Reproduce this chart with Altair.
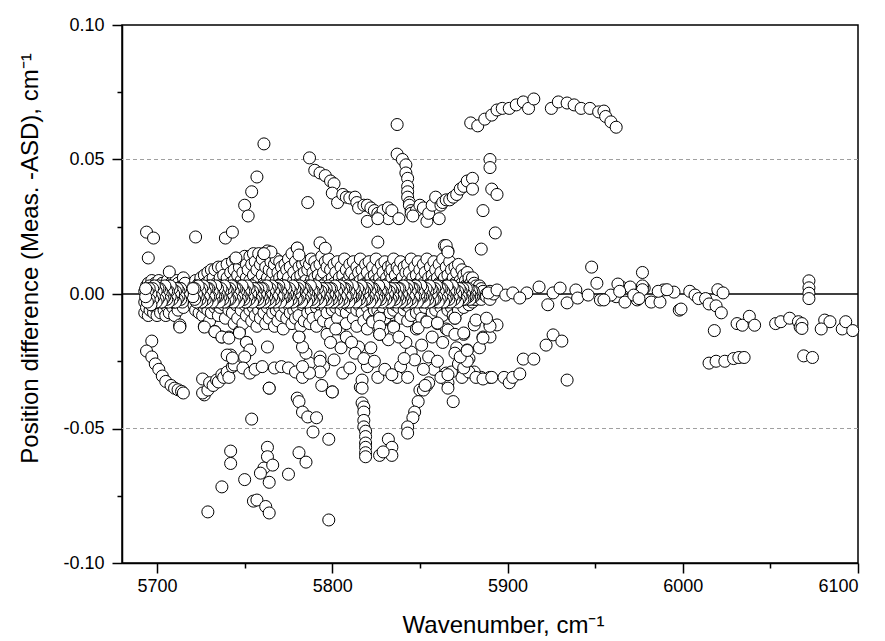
import altair as alt
import pandas as pd

# ---------------- data ----------------
# dense band of residuals near zero: (wavenumber, [position differences])
band_rows = [
    (5693, [-0.003, 0.001, -0.007]), (5694, [0.003, -0.001, -0.005]),
    (5695, [-0.008, 0.000, 0.004]), (5696, [-0.003, 0.002, -0.006]),
    (5697, [0.005, -0.001, -0.004]), (5698, [-0.007, 0.001, 0.003]),
    (5699, [-0.002, 0.004, -0.005]), (5700, [0.002, -0.003, -0.008]),
    (5701, [0.000, 0.005, -0.005]), (5702, [-0.002, 0.003, -0.007]),
    (5703, [0.001, -0.004, 0.004]), (5704, [-0.001, -0.006, 0.002]),
    (5705, [0.003, -0.003, -0.008]), (5706, [0.000, 0.005, -0.005]),
    (5707, [-0.002, 0.002, -0.007]), (5708, [0.004, -0.001, -0.004]),
    (5709, [0.001, -0.005, 0.003]), (5710, [-0.002, 0.003, -0.008]),
    (5711, [0.002, -0.004, 0.005]), (5712, [-0.001, 0.004, -0.006]),
    (5713, [0.001, -0.003, -0.012]), (5714, [0.003, -0.002]),
    (5715, [0.002, -0.005, 0.006]), (5716, [0.000, 0.004]),
    (5720, [0.001, -0.002]), (5721, [0.003, -0.004, 0.000]),
    (5722, [-0.001, 0.005, -0.006]), (5723, [0.002, -0.003, 0.000]),
    (5724, [0.004, -0.001, -0.007]), (5725, [0.000, 0.006, -0.004]),
    (5726, [-0.002, 0.002, -0.008]), (5727, [0.007, 0.000, -0.005, -0.012]),
    (5728, [0.001, -0.003, 0.004]), (5729, [-0.001, 0.008, -0.006]),
    (5730, [0.002, -0.003, 0.005, -0.010]), (5731, [0.000, -0.007, 0.009]),
    (5732, [0.003, -0.002, 0.006]), (5733, [-0.001, 0.009, -0.005, -0.014]),
    (5734, [0.001, -0.004, 0.004]), (5735, [0.010, -0.002, 0.002, -0.008]),
    (5736, [0.000, 0.006, -0.005]), (5737, [-0.002, 0.010, 0.003, -0.016]),
    (5738, [0.001, -0.004, 0.007]), (5739, [-0.001, 0.004, -0.009]),
    (5740, [0.011, 0.000, -0.003, 0.006]), (5741, [0.002, -0.006, -0.016]),
    (5742, [-0.001, 0.008, -0.003, 0.004]), (5743, [0.012, 0.001, -0.007]),
    (5744, [-0.002, 0.005, 0.009, -0.011]), (5745, [0.000, -0.004, 0.013]),
    (5746, [0.003, -0.001, 0.007, -0.009]), (5747, [-0.003, 0.010, 0.001, -0.014]),
    (5748, [0.005, -0.006, 0.013]), (5749, [0.000, -0.002, 0.008, -0.011]),
    (5750, [0.014, 0.003, -0.004]), (5751, [-0.001, 0.006, -0.008, 0.011, -0.018]),
    (5752, [0.002, -0.003, 0.009]), (5753, [0.000, 0.014, -0.006, 0.005]),
    (5754, [-0.002, 0.003, 0.011, -0.010]), (5755, [0.001, -0.005, 0.007, 0.015]),
    (5756, [-0.001, 0.004, -0.008, 0.012]), (5757, [0.002, -0.003, 0.009, -0.012]),
    (5758, [0.000, 0.015, -0.006, 0.005]), (5759, [-0.002, 0.002, 0.011, -0.009]),
    (5760, [0.001, -0.004, 0.007, 0.013]), (5761, [-0.001, 0.004, -0.007, 0.015]),
    (5762, [0.002, -0.002, 0.010, -0.011]), (5763, [0.000, 0.016, -0.005, 0.006]),
    (5764, [-0.002, 0.003, 0.009, -0.009]), (5765, [0.001, -0.004, 0.012, 0.005]),
    (5766, [-0.001, 0.002, -0.007, 0.008]), (5767, [0.002, -0.003, 0.011, -0.012]),
    (5768, [0.000, 0.005, -0.006, 0.013]), (5769, [-0.002, 0.003, 0.008, -0.010]),
    (5770, [0.001, -0.005, 0.006, 0.012]), (5771, [-0.001, 0.004, -0.008, 0.010]),
    (5772, [0.002, -0.002, 0.007, -0.013]), (5773, [0.000, 0.011, -0.005, 0.004]),
    (5774, [-0.002, 0.002, 0.009, -0.009]), (5775, [0.001, -0.004, 0.013, 0.006]),
    (5776, [-0.001, 0.003, -0.007, 0.010]), (5777, [0.002, -0.003, 0.015, -0.011]),
    (5778, [0.000, 0.005, -0.006, 0.008]), (5779, [-0.002, 0.002, 0.012, -0.009]),
    (5780, [0.001, -0.005, 0.017, 0.006]), (5781, [-0.001, 0.004, -0.008, 0.010, -0.016]),
    (5782, [0.002, -0.002, 0.007, -0.012]), (5783, [0.000, 0.011, -0.004, 0.004]),
    (5784, [-0.002, 0.003, 0.008, -0.010]), (5785, [0.001, -0.003, 0.012, 0.005]),
    (5786, [-0.001, 0.002, -0.007, 0.009]), (5787, [0.002, -0.004, 0.011, -0.011]),
    (5788, [0.000, 0.005, -0.006, 0.013]), (5789, [-0.002, 0.003, 0.008, -0.009]),
    (5790, [0.001, -0.003, 0.006, 0.012]), (5791, [-0.001, 0.002, -0.005, 0.010, -0.012]),
    (5792, [0.001, -0.002, 0.007, 0.004]), (5793, [0.000, 0.003, -0.004, 0.011, -0.008]),
    (5794, [-0.001, 0.002, 0.006, 0.014]), (5795, [0.001, -0.003, 0.008, -0.010]),
    (5796, [0.000, 0.004, -0.005, 0.012]), (5797, [-0.001, 0.002, 0.010, -0.007]),
    (5798, [0.001, -0.002, 0.005, 0.013]), (5799, [0.000, 0.003, -0.004, 0.009, -0.011]),
    (5800, [-0.001, 0.001, 0.006, -0.006]), (5801, [0.001, -0.002, 0.011, 0.004]),
    (5802, [0.000, 0.003, -0.005, 0.008]), (5803, [-0.001, 0.002, 0.012, -0.009]),
    (5804, [0.001, -0.003, 0.006, -0.013]), (5805, [0.000, 0.004, -0.006, 0.010]),
    (5806, [-0.001, 0.001, 0.007, -0.004]), (5807, [0.001, -0.002, 0.013, 0.004]),
    (5808, [0.000, 0.003, -0.007, 0.009, -0.011]), (5809, [-0.001, 0.002, 0.005, -0.004]),
    (5810, [0.001, -0.002, 0.011, 0.007]), (5811, [0.000, 0.004, -0.005, 0.008]),
    (5812, [-0.001, 0.001, 0.012, -0.009]), (5813, [0.001, -0.003, 0.006, 0.003]),
    (5814, [0.000, 0.004, -0.006, 0.010, -0.012]), (5815, [-0.001, 0.002, 0.008, -0.004]),
    (5816, [0.001, -0.002, 0.013, 0.005]), (5817, [0.000, 0.003, -0.007, 0.009]),
    (5818, [-0.001, 0.001, 0.006, -0.010]), (5819, [0.001, -0.003, 0.011, 0.004]),
    (5820, [0.000, 0.004, -0.005, 0.008, -0.013]), (5821, [-0.001, 0.002, 0.012, -0.008]),
    (5822, [0.001, -0.002, 0.006, 0.003]), (5823, [0.000, 0.003, -0.004, 0.010, -0.010]),
    (5824, [-0.001, 0.001, 0.007, -0.006]), (5825, [0.001, -0.003, 0.013, 0.005]),
    (5826, [0.000, 0.004, -0.006, 0.009, -0.012]), (5827, [-0.001, 0.002, 0.006, -0.008, -0.015]),
    (5828, [0.001, -0.002, 0.011, 0.004]), (5829, [0.000, 0.003, -0.005, 0.008, -0.013]),
    (5830, [-0.001, 0.001, 0.012, -0.009]), (5831, [0.001, -0.002, 0.006, 0.003]),
    (5832, [0.000, 0.004, -0.004, 0.010]), (5833, [-0.001, 0.002, 0.008, -0.007]),
    (5834, [0.001, -0.003, 0.011, 0.006, 0.009]), (5835, [0.000, 0.003, -0.006, 0.013, -0.012]),
    (5836, [-0.001, 0.001, 0.007, -0.004]), (5837, [0.001, -0.002, 0.010, 0.004]),
    (5838, [0.000, 0.004, -0.005, 0.009]), (5839, [-0.001, 0.002, 0.012, -0.009]),
    (5840, [0.001, -0.003, 0.006, 0.003]), (5841, [0.000, 0.003, -0.006, 0.010]),
    (5842, [-0.001, 0.001, 0.008, -0.004]), (5843, [0.001, -0.002, 0.011, 0.005, -0.010]),
    (5844, [0.000, 0.004, -0.005, 0.008]), (5845, [-0.001, 0.002, 0.013, -0.008]),
    (5846, [0.001, -0.002, 0.006, 0.003]), (5847, [0.000, 0.003, -0.004, 0.010]),
    (5848, [-0.001, 0.001, 0.007, -0.007, -0.013]), (5849, [0.001, -0.003, 0.012, 0.004]),
    (5850, [0.000, 0.004, -0.006, 0.009]), (5851, [-0.001, 0.002, 0.006, -0.009]),
    (5852, [0.001, -0.002, 0.011, 0.004]), (5853, [0.000, 0.003, -0.005, 0.008]),
    (5854, [-0.001, 0.001, 0.013, -0.010]), (5855, [0.001, -0.002, 0.006, 0.003]),
    (5856, [0.000, 0.004, -0.004, 0.010]), (5857, [-0.001, 0.002, 0.007, -0.007]),
    (5858, [0.001, -0.003, 0.012, 0.005]), (5859, [0.000, 0.003, -0.006, 0.009]),
    (5860, [-0.001, 0.001, 0.006, -0.011]), (5861, [0.001, -0.002, 0.011, 0.004]),
    (5862, [0.000, 0.004, -0.005, 0.008]), (5863, [-0.001, 0.002, 0.013, -0.008]),
    (5864, [0.001, -0.002, 0.006, 0.003, 0.018]), (5865, [0.000, 0.003, -0.004, 0.010, -0.013]),
    (5866, [-0.001, 0.001, 0.007, -0.006, 0.016]), (5867, [0.001, -0.003, 0.012, 0.004]),
    (5868, [0.000, 0.004, -0.005, 0.009]), (5869, [-0.001, 0.002, 0.006, -0.008]),
    (5870, [0.001, -0.002, 0.010, 0.004, -0.009]), (5871, [0.000, 0.003, -0.004, 0.008]),
    (5872, [-0.001, 0.001, 0.011, -0.006]), (5873, [0.001, -0.002, 0.005, 0.003]),
    (5874, [0.000, 0.004, -0.003, 0.009]), (5875, [-0.001, 0.002, 0.007, -0.005, -0.015]),
    (5876, [0.001, -0.002, 0.005, 0.003]), (5877, [0.000, 0.003, -0.003, 0.008]),
    (5878, [-0.001, 0.001, 0.006, -0.004]), (5879, [0.001, -0.002, 0.004, 0.002]),
    (5880, [0.000, 0.003, -0.003, 0.006]), (5881, [-0.001, 0.001, 0.004, -0.002]),
    (5882, [0.001, -0.002, 0.003]), (5883, [0.000, 0.002, -0.001]),
    (5884, [-0.001, 0.001, 0.003]), (5885, [0.001, -0.002, 0.002]),
    (5886, [0.000, 0.001]), (5888, [0.000, -0.001]), (5890, [0.001, -0.002]),
    (5892, [0.000]),
]

# very dense dark core of the band (half-step wavenumbers, listed from high to low)
core_rows = [
    (5880.5, [-0.001, 0.001]), (5879.5, [0.001, -0.001]), (5878.5, [0.000, -0.002]),
    (5877.5, [0.002, -0.001]), (5876.5, [-0.001, 0.002]), (5875.5, [0.000, -0.002]),
    (5874.5, [-0.002, 0.002]), (5873.5, [0.001, -0.001]), (5872.5, [-0.002, 0.002]),
    (5871.5, [0.001, -0.003]), (5870.5, [-0.001, 0.000]), (5869.5, [0.002, -0.002]),
    (5868.5, [-0.001, 0.003]), (5867.5, [0.001, -0.003]), (5866.5, [-0.002, 0.001]),
    (5865.5, [0.003, -0.001]), (5864.5, [0.000, -0.002]), (5863.5, [-0.003, 0.001]),
    (5862.5, [0.002, -0.001]), (5861.5, [-0.002, 0.002]), (5860.5, [0.001, -0.003]),
    (5859.5, [-0.001, 0.003]), (5858.5, [0.002, -0.002]), (5857.5, [-0.002, 0.001]),
    (5856.5, [0.000, 0.002]), (5855.5, [0.003, -0.003]), (5854.5, [-0.002, 0.001]),
    (5853.5, [0.002, -0.001]), (5852.5, [0.000, -0.003]), (5851.5, [-0.001, 0.002]),
    (5850.5, [0.003, -0.001]), (5849.5, [-0.002, 0.000]), (5848.5, [0.001, -0.003]),
    (5847.5, [-0.001, 0.003]), (5846.5, [0.002, -0.001]), (5845.5, [-0.003, 0.002]),
    (5844.5, [0.001, -0.002]), (5843.5, [-0.001, 0.003]), (5842.5, [0.002, -0.003]),
    (5841.5, [-0.002, 0.001]), (5840.5, [0.003, -0.001]), (5839.5, [0.000, -0.003]),
    (5838.5, [0.002, -0.002]), (5837.5, [-0.001, 0.002]), (5836.5, [0.000, -0.003]),
    (5835.5, [-0.002, 0.002]), (5834.5, [0.001, -0.001]), (5833.5, [-0.002, 0.002]),
    (5832.5, [0.001, -0.003]), (5831.5, [-0.001, 0.000]), (5830.5, [0.002, -0.002]),
    (5829.5, [-0.001, 0.003]), (5828.5, [0.001, -0.003]), (5827.5, [-0.002, 0.001]),
    (5826.5, [0.003, -0.001]), (5825.5, [0.000, -0.002]), (5824.5, [-0.003, 0.001]),
    (5823.5, [0.002, -0.001]), (5822.5, [-0.002, 0.002]), (5821.5, [0.001, -0.003]),
    (5820.5, [-0.001, 0.003]), (5819.5, [0.002, -0.002]), (5818.5, [-0.002, 0.001]),
    (5817.5, [0.000, 0.002]), (5816.5, [0.003, -0.003]), (5815.5, [-0.002, 0.001]),
    (5814.5, [0.002, -0.001]), (5813.5, [0.000, -0.003]), (5812.5, [-0.001, 0.002]),
    (5811.5, [0.003, -0.001]), (5810.5, [-0.002, 0.000]), (5809.5, [0.001, -0.003]),
    (5808.5, [-0.001, 0.003]), (5807.5, [0.002, -0.001]), (5806.5, [-0.003, 0.002]),
    (5805.5, [0.001, -0.002]), (5804.5, [-0.001, 0.003]), (5803.5, [0.002, -0.003]),
    (5802.5, [-0.002, 0.001]), (5801.5, [0.003, -0.001]), (5800.5, [0.000, -0.003]),
    (5799.5, [0.002, -0.002]), (5798.5, [-0.001, 0.002]), (5797.5, [0.000, -0.003]),
    (5796.5, [-0.002, 0.002]), (5795.5, [0.001, -0.001]), (5794.5, [-0.002, 0.002]),
    (5793.5, [0.001, -0.003]), (5792.5, [-0.001, 0.000]), (5791.5, [0.002, -0.002]),
    (5790.5, [-0.001, 0.003]), (5789.5, [0.001, -0.003]), (5788.5, [-0.002, 0.001]),
    (5787.5, [0.003, -0.001]), (5786.5, [0.000, -0.002]), (5785.5, [-0.003, 0.001]),
    (5784.5, [0.002, -0.001]), (5783.5, [-0.002, 0.002]), (5782.5, [0.001, -0.003]),
    (5781.5, [-0.001, 0.003]), (5780.5, [0.002, -0.002]), (5779.5, [-0.002, 0.001]),
    (5778.5, [0.000, 0.002]), (5777.5, [0.003, -0.003]), (5776.5, [-0.002, 0.001]),
    (5775.5, [0.002, -0.001]), (5774.5, [0.000, -0.003]), (5773.5, [-0.001, 0.002]),
    (5772.5, [0.003, -0.001]), (5771.5, [-0.002, 0.000]), (5770.5, [0.001, -0.003]),
    (5769.5, [-0.001, 0.003]), (5768.5, [0.002, -0.001]), (5767.5, [-0.003, 0.002]),
    (5766.5, [0.001, -0.002]), (5765.5, [-0.001, 0.003]), (5764.5, [0.002, -0.003]),
    (5763.5, [-0.002, 0.001]), (5762.5, [0.003, -0.001]), (5761.5, [0.000, -0.003]),
    (5760.5, [0.002, -0.002]), (5759.5, [-0.001, 0.002]), (5758.5, [0.000, -0.003]),
    (5757.5, [-0.002, 0.002]), (5756.5, [0.001, -0.001]), (5755.5, [-0.002, 0.002]),
    (5754.5, [0.001, -0.003]), (5753.5, [-0.001, 0.000]), (5752.5, [0.002, -0.002]),
    (5751.5, [-0.001, 0.003]), (5750.5, [0.001, -0.003]), (5749.5, [-0.002, 0.001]),
    (5748.5, [0.003, -0.001]), (5747.5, [0.000, -0.002]), (5746.5, [-0.003, 0.001]),
    (5745.5, [0.002, -0.001]), (5744.5, [-0.002, 0.002]), (5743.5, [0.001, -0.003]),
    (5742.5, [-0.001, 0.003]), (5741.5, [0.002, -0.002]), (5740.5, [-0.002, 0.001]),
    (5739.5, [0.000, 0.002]), (5738.5, [0.003, -0.003]), (5737.5, [-0.002, 0.001]),
    (5736.5, [0.002, -0.001]), (5735.5, [0.000, -0.003]), (5734.5, [-0.001, 0.002]),
    (5733.5, [0.003, -0.001]), (5732.5, [-0.002, 0.000]), (5731.5, [0.001, -0.003]),
    (5730.5, [-0.001, 0.003]), (5729.5, [0.002, -0.001]), (5728.5, [-0.003, 0.002]),
    (5727.5, [0.001, -0.002]), (5726.5, [-0.001, 0.003]), (5725.5, [0.002, -0.003]),
    (5724.5, [-0.002, 0.001]), (5723.5, [0.003, -0.001]), (5722.5, [0.000, -0.003]),
    (5721.5, [0.002, -0.002]), (5720.5, [-0.001, 0.002]), (5714.5, [0.000, -0.003]),
    (5713.5, [-0.002, 0.002]), (5712.5, [0.001, -0.001]), (5711.5, [-0.002, 0.002]),
    (5710.5, [0.001, -0.003]), (5709.5, [-0.001, 0.000]), (5708.5, [0.002, -0.002]),
    (5707.5, [-0.001, 0.003]), (5706.5, [0.001, -0.003]), (5705.5, [-0.002, 0.001]),
    (5704.5, [0.003, -0.001]), (5703.5, [0.000, -0.002]), (5702.5, [-0.003, 0.001]),
    (5701.5, [0.002, -0.001]), (5700.5, [-0.002, 0.002]), (5699.5, [0.001, -0.003]),
    (5698.5, [-0.001, 0.003]), (5697.5, [0.002, -0.002]), (5696.5, [0.000, -0.004]),
    (5695.5, [0.002, -0.002]), (5694.5, [-0.003, 0.001]), (5693.5, [-0.001, 0.002]),
]

# finest core layer (quarter-step wavenumbers)
core_fine = [
    (5694.25, 0.001), (5694.75, -0.002), (5695.25, 0.000), (5695.75, 0.003), (5696.25, -0.001),
    (5696.75, 0.002), (5697.25, -0.003), (5697.75, 0.000), (5698.25, 0.002), (5698.75, -0.002),
    (5699.25, 0.000), (5699.75, 0.001), (5700.25, -0.001), (5700.75, 0.003), (5701.25, -0.002),
    (5701.75, 0.000), (5702.25, 0.001), (5702.75, -0.003), (5703.25, 0.002), (5703.75, -0.001),
    (5704.25, 0.000), (5704.75, 0.002), (5705.25, -0.002), (5705.75, 0.001), (5706.25, -0.001),
    (5706.75, 0.003), (5707.25, 0.000), (5707.75, -0.002), (5708.25, 0.001), (5708.75, -0.001),
    (5709.25, 0.002), (5709.75, -0.003), (5710.25, 0.000), (5710.75, 0.002), (5711.25, -0.001),
    (5711.75, 0.001), (5712.25, -0.002), (5712.75, 0.000), (5713.25, 0.002), (5713.75, -0.001),
    (5720.25, 0.000), (5720.75, 0.002), (5721.25, -0.001), (5721.75, 0.001), (5722.25, -0.002),
    (5722.75, 0.003), (5723.25, 0.000), (5723.75, -0.002), (5724.25, 0.001), (5724.75, -0.001),
    (5725.25, 0.002), (5725.75, -0.003), (5726.25, 0.000), (5726.75, 0.002), (5727.25, -0.001),
    (5727.75, 0.001), (5728.25, -0.002), (5728.75, 0.000), (5729.25, 0.003), (5729.75, -0.001),
    (5730.25, 0.000), (5730.75, -0.002), (5731.25, 0.002), (5731.75, 0.000), (5732.25, -0.001),
    (5732.75, 0.001), (5733.25, -0.003), (5733.75, 0.002), (5734.25, 0.000), (5734.75, -0.001),
    (5735.25, 0.001), (5735.75, 0.003), (5736.25, -0.002), (5736.75, 0.000), (5737.25, 0.002),
    (5737.75, -0.001), (5738.25, 0.001), (5738.75, -0.002), (5739.25, 0.000), (5739.75, 0.002),
    (5740.25, -0.003), (5740.75, 0.001), (5741.25, 0.000), (5741.75, -0.001), (5742.25, 0.002),
    (5742.75, 0.000), (5743.25, -0.002), (5743.75, 0.003), (5744.25, 0.001), (5744.75, -0.001),
    (5745.25, 0.000), (5745.75, 0.002), (5746.25, -0.002), (5746.75, 0.001), (5747.25, -0.001),
    (5747.75, 0.003), (5748.25, 0.000), (5748.75, -0.002), (5749.25, 0.001), (5749.75, -0.001),
    (5750.25, 0.002), (5750.75, -0.003), (5751.25, 0.000), (5751.75, 0.002), (5752.25, -0.001),
    (5752.75, 0.001), (5753.25, -0.002), (5753.75, 0.000), (5754.25, 0.003), (5754.75, -0.001),
    (5755.25, 0.000), (5755.75, -0.002), (5756.25, 0.002), (5756.75, 0.000), (5757.25, -0.001),
    (5757.75, 0.001), (5758.25, -0.003), (5758.75, 0.002), (5759.25, 0.000), (5759.75, -0.001),
    (5760.25, 0.001), (5760.75, 0.003), (5761.25, -0.002), (5761.75, 0.000), (5762.25, 0.002),
    (5762.75, -0.001), (5763.25, 0.001), (5763.75, -0.002), (5764.25, 0.000), (5764.75, 0.002),
    (5765.25, -0.003), (5765.75, 0.001), (5766.25, 0.000), (5766.75, -0.001), (5767.25, 0.002),
    (5767.75, 0.000), (5768.25, -0.002), (5768.75, 0.003), (5769.25, 0.001), (5769.75, -0.001),
    (5770.25, 0.000), (5770.75, 0.002), (5771.25, -0.002), (5771.75, 0.001), (5772.25, -0.001),
    (5772.75, 0.003), (5773.25, 0.000), (5773.75, -0.002), (5774.25, 0.001), (5774.75, -0.001),
    (5775.25, 0.002), (5775.75, -0.003), (5776.25, 0.000), (5776.75, 0.002), (5777.25, -0.001),
    (5777.75, 0.001), (5778.25, -0.002), (5778.75, 0.000), (5779.25, 0.003), (5779.75, -0.001),
    (5780.25, 0.000), (5780.75, -0.002), (5781.25, 0.002), (5781.75, 0.000), (5782.25, -0.001),
    (5782.75, 0.001), (5783.25, -0.003), (5783.75, 0.002), (5784.25, 0.000), (5784.75, -0.001),
    (5785.25, 0.001), (5785.75, 0.003), (5786.25, -0.002), (5786.75, 0.000), (5787.25, 0.002),
    (5787.75, -0.001), (5788.25, 0.001), (5788.75, -0.002), (5789.25, 0.000), (5789.75, 0.002),
    (5790.25, -0.003), (5790.75, 0.001), (5791.25, 0.000), (5791.75, -0.001), (5792.25, 0.002),
    (5792.75, 0.000), (5793.25, -0.002), (5793.75, 0.003), (5794.25, 0.001), (5794.75, -0.001),
    (5795.25, 0.000), (5795.75, 0.002), (5796.25, -0.002), (5796.75, 0.001), (5797.25, -0.001),
    (5797.75, 0.003), (5798.25, 0.000), (5798.75, -0.002), (5799.25, 0.001), (5799.75, -0.001),
    (5800.25, 0.002), (5800.75, -0.003), (5801.25, 0.000), (5801.75, 0.002), (5802.25, -0.001),
    (5802.75, 0.001), (5803.25, -0.002), (5803.75, 0.000), (5804.25, 0.003), (5804.75, -0.001),
    (5805.25, 0.000), (5805.75, -0.002), (5806.25, 0.002), (5806.75, 0.000), (5807.25, -0.001),
    (5807.75, 0.001), (5808.25, -0.003), (5808.75, 0.002), (5809.25, 0.000), (5809.75, -0.001),
    (5810.25, 0.001), (5810.75, 0.003), (5811.25, -0.002), (5811.75, 0.000), (5812.25, 0.002),
    (5812.75, -0.001), (5813.25, 0.001), (5813.75, -0.002), (5814.25, 0.000), (5814.75, 0.002),
    (5815.25, -0.003), (5815.75, 0.001), (5816.25, 0.000), (5816.75, -0.001), (5817.25, 0.002),
    (5817.75, 0.000), (5818.25, -0.002), (5818.75, 0.003), (5819.25, 0.001), (5819.75, -0.001),
    (5820.25, 0.000), (5820.75, 0.002), (5821.25, -0.002), (5821.75, 0.001), (5822.25, -0.001),
    (5822.75, 0.003), (5823.25, 0.000), (5823.75, -0.002), (5824.25, 0.001), (5824.75, -0.001),
    (5825.25, 0.002), (5825.75, -0.003), (5826.25, 0.000), (5826.75, 0.002), (5827.25, -0.001),
    (5827.75, 0.001), (5828.25, -0.002), (5828.75, 0.000), (5829.25, 0.003), (5829.75, -0.001),
    (5830.25, 0.000), (5830.75, -0.002), (5831.25, 0.002), (5831.75, 0.000), (5832.25, -0.001),
    (5832.75, 0.001), (5833.25, -0.003), (5833.75, 0.002), (5834.25, 0.000), (5834.75, -0.001),
    (5835.25, 0.001), (5835.75, 0.003), (5836.25, -0.002), (5836.75, 0.000), (5837.25, 0.002),
    (5837.75, -0.001), (5838.25, 0.001), (5838.75, -0.002), (5839.25, 0.000), (5839.75, 0.002),
    (5840.25, -0.003), (5840.75, 0.001), (5841.25, 0.000), (5841.75, -0.001), (5842.25, 0.002),
    (5842.75, 0.000), (5843.25, -0.002), (5843.75, 0.003), (5844.25, 0.001), (5844.75, -0.001),
    (5845.25, 0.000), (5845.75, 0.002), (5846.25, -0.002), (5846.75, 0.001), (5847.25, -0.001),
    (5847.75, 0.003), (5848.25, 0.000), (5848.75, -0.002), (5849.25, 0.001), (5849.75, -0.001),
    (5850.25, 0.002), (5850.75, -0.003), (5851.25, 0.000), (5851.75, 0.002), (5852.25, -0.001),
    (5852.75, 0.001), (5853.25, -0.002), (5853.75, 0.000), (5854.25, 0.003), (5854.75, -0.001),
    (5855.25, 0.000), (5855.75, -0.002), (5856.25, 0.002), (5856.75, 0.000), (5857.25, -0.001),
    (5857.75, 0.001), (5858.25, -0.003), (5858.75, 0.002), (5859.25, 0.000), (5859.75, -0.001),
    (5860.25, 0.001), (5860.75, 0.003), (5861.25, -0.002), (5861.75, 0.000), (5862.25, 0.002),
    (5862.75, -0.001), (5863.25, 0.001), (5863.75, -0.002), (5864.25, 0.000), (5864.75, 0.002),
    (5865.25, -0.003), (5865.75, 0.001), (5866.25, 0.000), (5866.75, -0.001), (5867.25, 0.002),
    (5867.75, 0.000), (5868.25, -0.002), (5868.75, 0.003), (5869.25, 0.001), (5869.75, -0.001),
    (5870.25, 0.000), (5870.75, 0.002), (5871.25, -0.002), (5871.75, 0.001), (5872.25, -0.001),
    (5872.75, 0.002), (5873.25, 0.000), (5873.75, -0.002), (5874.25, 0.001), (5874.75, -0.001),
    (5875.25, 0.001), (5875.75, -0.001), (5876.25, 0.000), (5876.75, 0.001), (5877.25, -0.001),
]

# arcs and chains below the band
lower_chains = [
    (5697, -0.0175), (5694, -0.0212), (5697, -0.0234), (5699, -0.0260), (5701, -0.0280),
    (5703, -0.0305), (5705, -0.0325), (5708, -0.0340), (5710, -0.0350), (5712, -0.0356),
    (5714, -0.0362), (5715, -0.0368), (5713, -0.0115), (5713, -0.0123),
    (5726, -0.0316), (5727, -0.0375), (5726, -0.0368), (5729, -0.0357), (5730, -0.0330),
    (5732, -0.0340), (5734, -0.0320), (5735, -0.0327), (5737, -0.0300), (5738, -0.0310),
    (5740, -0.0290), (5741, -0.0310), (5742, -0.0227), (5743, -0.0270), (5744, -0.0264),
    (5740, -0.0227), (5743, -0.0238),
    (5727, -0.0123), (5733, -0.0140), (5737, -0.0160), (5741, -0.0164), (5747, -0.0145),
    (5751, -0.0180), (5753, -0.0208), (5750, -0.0234), (5749, -0.0275), (5753, -0.0294),
    (5756, -0.0280), (5760, -0.0270), (5763, -0.0197), (5764, -0.0350), (5767, -0.0275),
    (5771, -0.0270), (5775, -0.0275), (5779, -0.0290), (5783, -0.0310), (5787, -0.0257),
    (5785, -0.0220), (5783, -0.0197), (5781, -0.0160), (5780, -0.0387),
    (5793, -0.0234), (5795, -0.0270), (5793, -0.0250), (5793, -0.0290), (5800, -0.0364),
    (5815, -0.0197), (5822, -0.0200), (5832, -0.0170), (5845, -0.0216), (5847, -0.0245),
    (5855, -0.0234), (5858, -0.0280), (5865, -0.0294), (5871, -0.0200), (5877, -0.0208),
    (5886, -0.0160), (5881, -0.0115), (5890, -0.0115), (5870, -0.0090), (5885, -0.0310),
    (5890, -0.0310), (5881, -0.0290), (5874, -0.0310), (5866, -0.0330), (5854, -0.0340),
    (5850, -0.0357), (5816, -0.0346), (5820, -0.0270), (5826, -0.0310), (5839, -0.0270),
    (5837, -0.0310), (5843, -0.0310), (5806, -0.0294), (5810, -0.0275), (5787, -0.0294),
    (5783, -0.0270), (5801, -0.0245), (5805, -0.0200), (5823, -0.0104), (5829, -0.0134),
    (5835, -0.0123), (5849, -0.0126), (5854, -0.0104), (5860, -0.0108), (5866, -0.0134),
    (5870, -0.0150), (5875, -0.0145), (5890, -0.0160), (5827, -0.0090), (5827, -0.0120),
    (5827, -0.0150),
    (5797, -0.0150), (5799, -0.0180), (5802, -0.0130), (5808, -0.0160), (5811, -0.0180),
    (5813, -0.0220), (5818, -0.0240), (5824, -0.0250), (5830, -0.0280), (5834, -0.0300),
    (5841, -0.0240), (5852, -0.0280), (5860, -0.0250), (5862, -0.0310), (5868, -0.0290),
    (5872, -0.0260), (5878, -0.0240), (5884, -0.0200), (5842, -0.0180), (5838, -0.0160),
    (5851, -0.0190), (5857, -0.0160), (5863, -0.0180), (5870, -0.0220),
    (5866, -0.0300), (5866, -0.0350), (5869, -0.0400), (5855, -0.0330), (5852, -0.0357),
    (5849, -0.0400), (5847, -0.0439), (5846, -0.0460), (5843, -0.0494), (5843, -0.0517),
    (5832, -0.0540), (5834, -0.0570), (5834, -0.0600), (5827, -0.0600), (5829, -0.0587),
    (5853, -0.0340),
    (5878, -0.0290), (5875, -0.0275), (5877, -0.0250), (5873, -0.0234), (5877, -0.0210),
    (5882, -0.0310), (5886, -0.0316), (5891, -0.0310), (5898, -0.0310), (5901, -0.0330),
    (5903, -0.0310), (5907, -0.0297), (5909, -0.0242), (5915, -0.0242), (5922, -0.0190),
    (5926, -0.0152), (5931, -0.0175), (5934, -0.0320), (5894, -0.0115), (5890, -0.0120),
    (5886, -0.0164), (5882, -0.0097), (5888, -0.0090),
]

# far outliers below
low_outliers = [
    (5764, -0.0350), (5754, -0.0465), (5742, -0.0584), (5742, -0.0630), (5737, -0.0717),
    (5729, -0.0810), (5750, -0.0690), (5763, -0.0570), (5763, -0.0605), (5761, -0.0647),
    (5766, -0.0636), (5759, -0.0666), (5764, -0.0700), (5755, -0.0770), (5757, -0.0766),
    (5762, -0.0790), (5764, -0.0814), (5775, -0.0670), (5781, -0.0590), (5785, -0.0625),
    (5781, -0.0400), (5783, -0.0439), (5786, -0.0457), (5791, -0.0460), (5789, -0.0513),
    (5798, -0.0540), (5798, -0.0840), (5794, -0.0340), (5800, -0.0364),
    (5817, -0.0320), (5817, -0.0350), (5817, -0.0405), (5818, -0.0420), (5818, -0.0439),
    (5818, -0.0470), (5818, -0.0494), (5819, -0.0510), (5819, -0.0530), (5819, -0.0554),
    (5819, -0.0570), (5819, -0.0590), (5819, -0.0605),
]

# scattered points above the band
upper_outliers = [
    (5761, 0.0558), (5757, 0.0435), (5754, 0.0380), (5750, 0.0330), (5752, 0.0290),
    (5694, 0.0230), (5698, 0.0208), (5695, 0.0134), (5707, 0.0082), (5722, 0.0212),
    (5739, 0.0208), (5743, 0.0230), (5745, 0.0134), (5780, 0.0171), (5781, 0.0145),
    (5793, 0.0190), (5796, 0.0170), (5765, 0.0156), (5761, 0.0150), (5826, 0.0193),
    (5865, 0.0180), (5866, 0.0156), (5885, 0.0167), (5893, 0.0227),
    (5886, 0.0310), (5890, 0.0500), (5890, 0.0470), (5891, 0.0390), (5894, 0.0370),
]

# U-shaped arc between 5785 and 5880 with the spike near 5838
u_arc = [
    (5786, 0.034), (5787, 0.0506), (5790, 0.046), (5793, 0.045), (5796, 0.044),
    (5799, 0.042), (5801, 0.041), (5800, 0.0375), (5803, 0.034), (5806, 0.037),
    (5808, 0.036), (5810, 0.0357), (5813, 0.036), (5814, 0.034), (5815, 0.032),
    (5818, 0.033), (5820, 0.033), (5822, 0.032), (5824, 0.031), (5826, 0.030),
    (5827, 0.029), (5829, 0.031), (5832, 0.032), (5832, 0.028), (5834, 0.031),
    (5838, 0.028), (5837, 0.063), (5837, 0.052), (5840, 0.050), (5842, 0.048),
    (5842, 0.045), (5843, 0.043), (5843, 0.040), (5843, 0.038), (5843, 0.036),
    (5844, 0.034), (5844, 0.033), (5845, 0.031), (5845, 0.030), (5848, 0.031),
    (5850, 0.033), (5852, 0.032), (5854, 0.027), (5855, 0.030), (5857, 0.033),
    (5859, 0.036), (5861, 0.028), (5862, 0.033), (5863, 0.034), (5865, 0.035),
    (5867, 0.035), (5869, 0.036), (5871, 0.037), (5873, 0.039), (5875, 0.040),
    (5877, 0.042), (5880, 0.043), (5880, 0.039), (5820, 0.027), (5826, 0.028),
    (5846, 0.029),
]

# upper arc 5880-5962
top_arc = [
    (5879, 0.0636), (5883, 0.0625), (5887, 0.0650), (5891, 0.0665), (5894, 0.0684),
    (5897, 0.0690), (5901, 0.0690), (5905, 0.0703), (5909, 0.0714), (5912, 0.0690),
    (5915, 0.0725), (5925, 0.0690), (5929, 0.0714), (5934, 0.0710), (5938, 0.0703),
    (5942, 0.0690), (5947, 0.0690), (5952, 0.0677), (5955, 0.0680), (5956, 0.0660),
    (5959, 0.0640), (5962, 0.0620),
]

# sparse points 5885-6100
right_points = [
    (5948, 0.0100), (5951, 0.0040), (5977, 0.0080), (5918, 0.0026), (5911, 0.0004),
    (5923, -0.0040), (5926, 0.0004), (5930, 0.0022), (5934, -0.0033), (5939, 0.0015),
    (5940, -0.0015), (5946, -0.0004), (5953, -0.0022), (5962, -0.0010), (5965, 0.0026),
    (5967, -0.0030), (5970, 0.0026), (5974, -0.0022), (5978, 0.0022), (5982, -0.0030),
    (5989, 0.0015), (5995, 0.0007), (5998, -0.0060), (5889, 0.0004), (5894, 0.0015),
    (5899, -0.0004), (5903, 0.0004), (5907, -0.0015),
    (5977, 0.0030), (5977, 0.0016), (5963, 0.0037), (5959, -0.0004), (5955, -0.0022),
    (5964, 0.0010), (5972, -0.0004), (5975, -0.0017), (5987, -0.0030), (5986, 0.0010),
    (5991, 0.0016), (5999, -0.0056), (6004, 0.0010), (6007, -0.0004), (6009, -0.0017),
    (6013, -0.0017), (6015, -0.0037), (6019, -0.0044), (6020, 0.0016), (6023, 0.0004),
    (6022, -0.0070), (6018, -0.0136), (6031, -0.0110), (6034, -0.0116), (6038, -0.0083),
    (6041, -0.0116), (6053, -0.0110), (6056, -0.0103), (6061, -0.0090), (6066, -0.0103),
    (6067, -0.0123), (6068, -0.0110), (6068, -0.0128), (6081, -0.0097), (6084, -0.0103),
    (6079, -0.0130), (6091, -0.0130), (6093, -0.0103), (6097, -0.0136),
    (6072, 0.0049), (6072, 0.0023), (6072, 0.0003), (6072, -0.0017),
    (6015, -0.0257), (6019, -0.0250), (6024, -0.0250), (6029, -0.0240), (6032, -0.0236),
    (6035, -0.0236), (6069, -0.0230), (6074, -0.0236),
]

major_x = [5700, 5800, 5900, 6000, 6100]
minor_x = [5750, 5850, 5950, 6050]
major_y = [-0.10, -0.05, 0.00, 0.05, 0.10]
minor_y = [-0.075, -0.025, 0.025, 0.075]
dashed_y = [-0.05, 0.05]
zero_y = [0.0]

# ---------------- build table (drawing order = list order) ----------------
pts = []
for xv, yl in band_rows:
    for yv in yl:
        pts.append((xv, yv))
pts.extend(core_fine)
for xv, yl in core_rows:
    for yv in yl:
        pts.append((xv, yv))
for grp in (lower_chains, low_outliers, upper_outliers, u_arc, top_arc, right_points):
    pts.extend(grp)
df = pd.DataFrame(pts, columns=["x", "y"])

FONT = "Liberation Sans"
xs = alt.Scale(domain=[5680, 6100], nice=False, zero=False)
ys_ = alt.Scale(domain=[-0.10, 0.10], nice=False, zero=False)

y_label_expr = "replace(format(datum.value, '.2f'), '\u2212', '-')"

points = alt.Chart(df).mark_circle(
    size=145, fill="white", fillOpacity=1, stroke="black", strokeWidth=1, opacity=1
).encode(
    x=alt.X("x:Q", scale=xs, axis=alt.Axis(
        values=major_x, format="d", title="Wavenumber, cm\u207b\u00b9", orient="bottom",
        tickSize=10, labelPadding=4, titlePadding=18, titleX=381, grid=False)),
    y=alt.Y("y:Q", scale=ys_, axis=alt.Axis(
        values=major_y, labelExpr=y_label_expr, orient="left",
        title="Position difference (Meas. -ASD), cm\u207b\u00b9",
        tickSize=10, labelPadding=8, titleX=-80, titleY=233,
        titleBaseline="bottom", grid=False)),
)

minor_x_df = pd.DataFrame({"x": minor_x})
minor_y_df = pd.DataFrame({"y": minor_y})
minor_x_layer = alt.Chart(minor_x_df).mark_point(opacity=0).encode(
    x=alt.X("x:Q", scale=xs, axis=alt.Axis(
        values=minor_x, labels=False, tickSize=5, domain=False, title=None,
        orient="bottom", grid=False)),
)
minor_y_layer = alt.Chart(minor_y_df).mark_point(opacity=0).encode(
    y=alt.Y("y:Q", scale=ys_, axis=alt.Axis(
        values=minor_y, labels=False, tickSize=5, domain=False, title=None,
        orient="left", grid=False)),
)

dashed = alt.Chart(pd.DataFrame({"y": dashed_y})).mark_rule(
    color="#a0a0a0", strokeDash=[4, 3], strokeWidth=1
).encode(y=alt.Y("y:Q", scale=ys_, axis=None))
zero = alt.Chart(pd.DataFrame({"y": zero_y})).mark_rule(
    color="black", strokeWidth=1.5
).encode(y=alt.Y("y:Q", scale=ys_, axis=None))

chart = alt.layer(
    dashed, zero, points, minor_x_layer, minor_y_layer
).resolve_axis(x="independent", y="independent").properties(
    width=736, height=538,
    autosize=alt.AutoSizeParams(type="none"),
    padding={"left": 114, "top": 17, "right": 19, "bottom": 90},
).configure_view(
    stroke="black", strokeWidth=1.5
).configure_axis(
    domainColor="black", domainWidth=1.5, tickColor="black", tickWidth=1.5,
    labelFont=FONT, labelFontSize=18, labelColor="black",
    titleFont=FONT, titleFontSize=24, titleFontWeight="normal", titleColor="black",
)

chart.save("out.html", embed_options={"renderer": "svg", "actions": False})
